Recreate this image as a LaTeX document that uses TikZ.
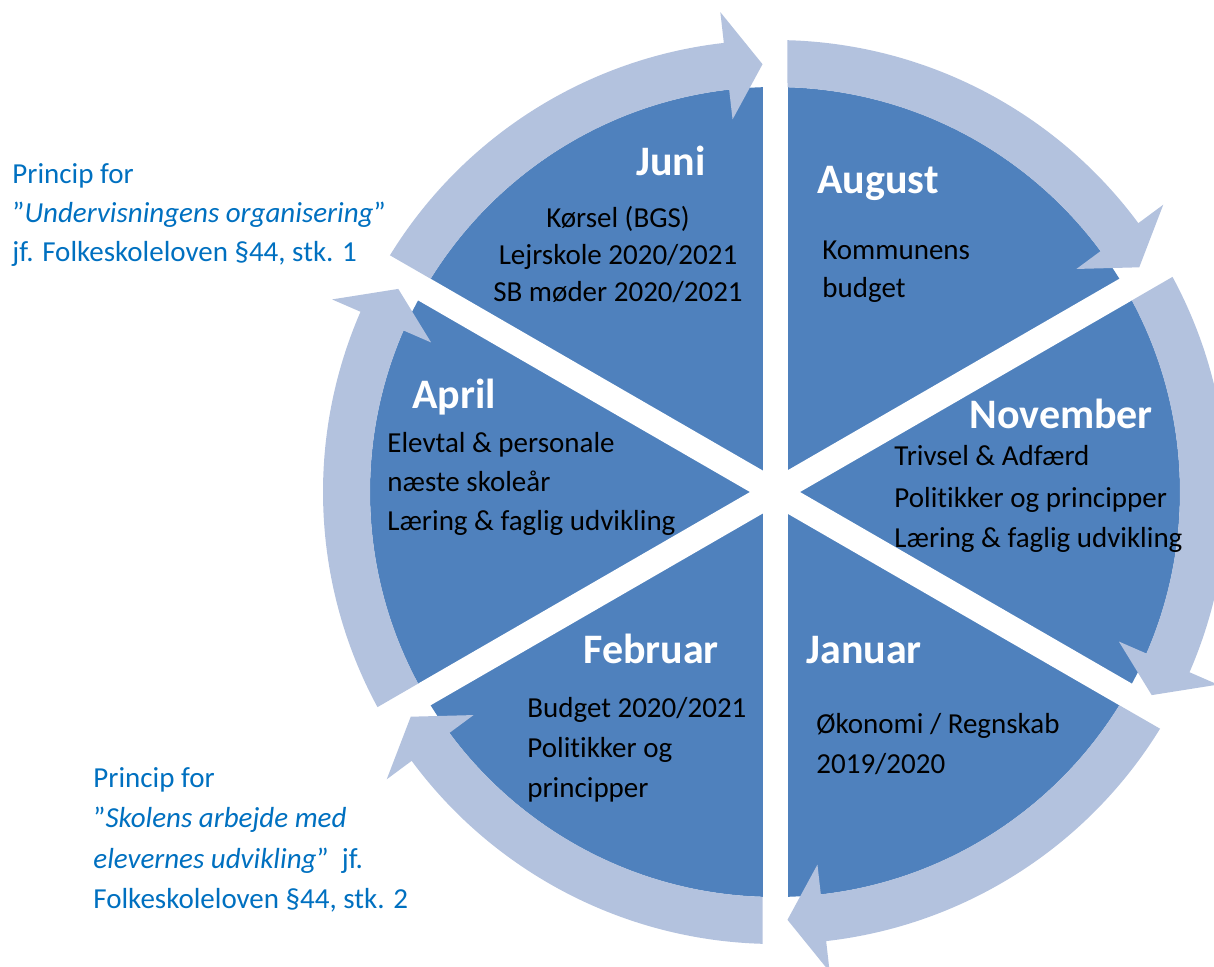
\documentclass[tikz,border=0pt]{standalone}
\usepackage{fontspec}
\setmainfont{Carlito}[Ligatures=NoCommon]
\definecolor{diskblue}{HTML}{4F81BD}
\definecolor{ringblue}{HTML}{B3C2DE}
\definecolor{noteblue}{HTML}{0070C0}
\begin{document}
\begin{tikzpicture}[x=0.5pt,y=0.5pt]
  \tikzstyle{ring}=[fill=ringblue]
  \tikzstyle{gap}=[draw=white,line width=12.5pt]
  \tikzstyle{month}=[inner sep=0pt,text=white,font=\fontsize{21}{25}\selectfont\bfseries]
  \tikzstyle{item}=[inner sep=0pt,anchor=base west,text=black,font=\fontsize{14.5}{17}\selectfont]
  \tikzstyle{note}=[inner sep=0pt,anchor=base west,text=noteblue,font=\fontsize{14.5}{17}\selectfont]
  \useasboundingbox (-775,-474) rectangle (439,492);

  % disk
  \fill[diskblue] (0,0) circle[radius=405];
  \draw[gap] (90:418) -- (-90:418);
  \draw[gap] (30:418) -- (210:418);
  \draw[gap] (150:418) -- (-30:418);

  % arrows
  \fill[ring,rotate=60] (88.42:452) arc[start angle=88.42, end angle=36.5, radius=452] -- (36.5:483) -- (31.67:428) -- (36.5:375) -- (36.5:405) arc[start angle=36.5, end angle=88.23, radius=405] -- cycle;
  \fill[ring,rotate=0] (88.42:452) arc[start angle=88.42, end angle=36.5, radius=452] -- (36.5:483) -- (31.67:428) -- (36.5:375) -- (36.5:405) arc[start angle=36.5, end angle=88.23, radius=405] -- cycle;
  \fill[ring,rotate=-60] (88.42:452) arc[start angle=88.42, end angle=36.5, radius=452] -- (36.5:483) -- (31.67:428) -- (36.5:375) -- (36.5:405) arc[start angle=36.5, end angle=88.23, radius=405] -- cycle;
  \fill[ring,rotate=-120] (88.42:452) arc[start angle=88.42, end angle=36.5, radius=452] -- (36.5:483) -- (31.67:428) -- (36.5:375) -- (36.5:405) arc[start angle=36.5, end angle=88.23, radius=405] -- cycle;
  \fill[ring,rotate=-180] (88.42:452) arc[start angle=88.42, end angle=36.5, radius=452] -- (36.5:483) -- (31.67:428) -- (36.5:375) -- (36.5:405) arc[start angle=36.5, end angle=88.23, radius=405] -- cycle;
  \fill[ring,rotate=-240] (88.42:452) arc[start angle=88.42, end angle=36.5, radius=452] -- (36.5:483) -- (31.67:428) -- (36.5:375) -- (36.5:405) arc[start angle=36.5, end angle=88.23, radius=405] -- cycle;

  % months
  \node[month,anchor=base] (juni) at (-104,317) {Juni};
  \node[month,anchor=base west] (august) at (42,299) {August};
  \node[month,anchor=base west] (november) at (194,64) {November};
  \node[month,anchor=base west] (april) at (-363,84) {April};
  \node[month,anchor=base west] (februar) at (-192,-171) {Februar};
  \node[month,anchor=base west] (januar) at (31,-171) {Januar};

  % items
  \node[item,anchor=base] (juni1) at (-157,265) {Kørsel (BGS)};
  \node[item,anchor=base] (juni2) at (-157,228) {Lejrskole 2020/2021};
  \node[item,anchor=base] (juni3) at (-157,191) {SB møder 2020/2021};

  \node[item] (august1) at (47,233) {Kommunens};
  \node[item] (august2) at (47,195) {budget};

  \node[item] (november1) at (119,27) {Trivsel \& Adfærd};
  \node[item] (november2) at (119,-15) {Politikker og principper};
  \node[item] (november3) at (119,-55) {Læring \& faglig udvikling};

  \node[item] (april1) at (-388,40) {Elevtal \& personale};
  \node[item] (april2) at (-388,1) {næste skoleår};
  \node[item] (april3) at (-388,-38) {Læring \& faglig udvikling};

  \node[item] (februar1) at (-248,-225) {Budget 2020/2021};
  \node[item] (februar2) at (-248,-265) {Politikker og};
  \node[item] (februar3) at (-248,-305) {principper};

  \node[item] (januar1) at (41,-241) {Økonomi / Regnskab};
  \node[item] (januar2) at (41,-281) {2019/2020};

  % notes
  \node[note] (princip1a) at (-763,309) {Princip for};
  \node[note] (princip1b) at (-763,270) {”\textit{Undervisningens organisering}”};
  \node[note] (princip1c) at (-763,231) {jf. Folkeskoleloven §44, stk. 1};

  \node[note] (princip2a) at (-682,-295) {Princip for};
  \node[note] (princip2b) at (-682,-335) {”\textit{Skolens arbejde med}};
  \node[note] (princip2c) at (-682,-376) {\textit{elevernes udvikling}”\ \ jf.};
  \node[note] (princip2d) at (-682,-416) {Folkeskoleloven §44, stk. 2};
\end{tikzpicture}
\end{document}
